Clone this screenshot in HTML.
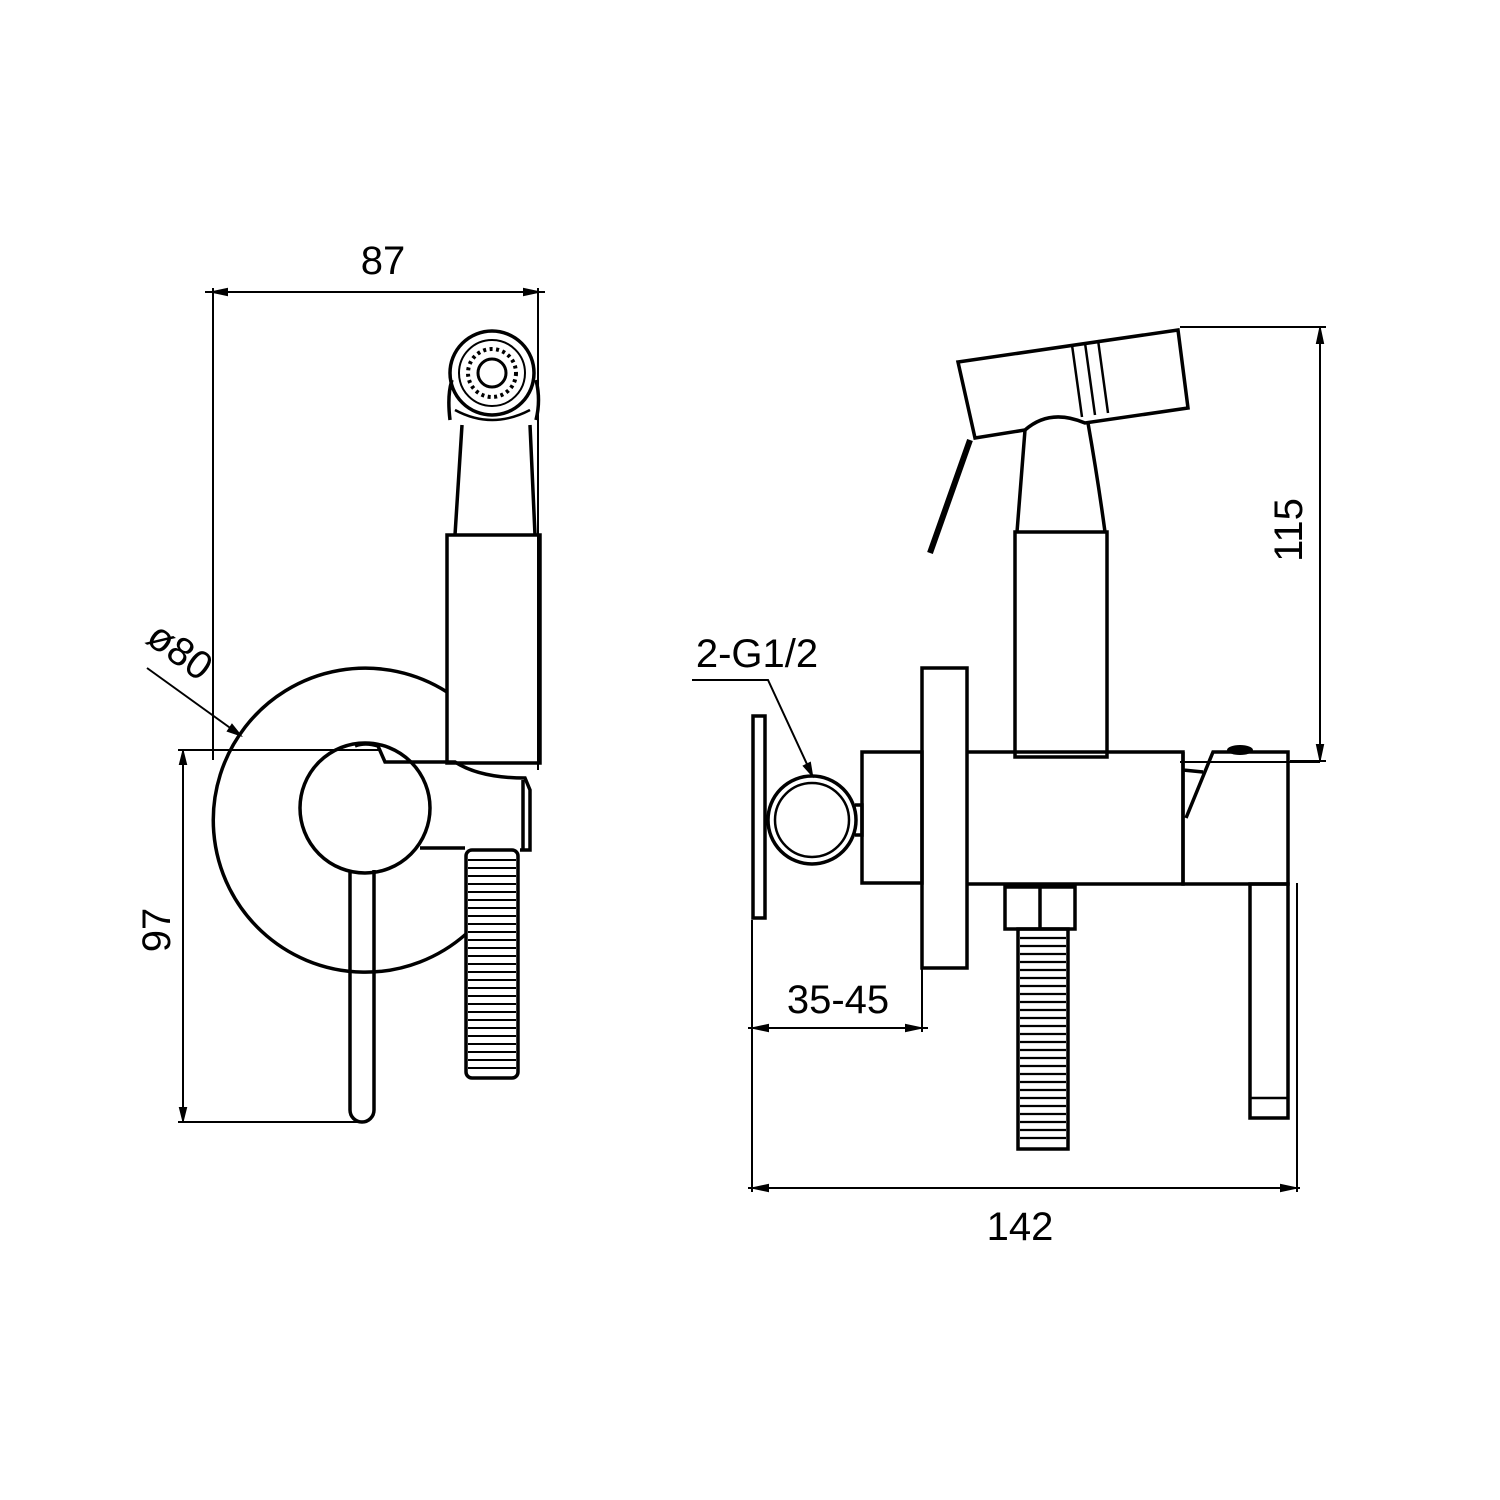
<!DOCTYPE html>
<html><head><meta charset="utf-8"><style>html,body{margin:0;padding:0;background:#fff}svg{display:block}</style></head>
<body>
<svg width="1500" height="1500" viewBox="0 0 1500 1500" xmlns="http://www.w3.org/2000/svg" font-family="Liberation Sans, Arial, sans-serif">
<rect width="1500" height="1500" fill="#fff"/>
<g fill="none" stroke="#000" stroke-width="2">
<line x1="205" y1="292" x2="545" y2="292"/>
<line x1="213" y1="288" x2="213" y2="760"/>
<line x1="538" y1="288" x2="538" y2="770"/>
<path d="M213 292 l14 -3 v6 z M538 292 l-14 -3 v6 z" fill="#000"/>
<line x1="178" y1="750" x2="380" y2="750"/>
<line x1="178" y1="1122" x2="362" y2="1122"/>
<line x1="183" y1="750" x2="183" y2="1122"/>
<path d="M183 752 l-3 12 h6 z M183 1120 l-3 -12 h6 z" fill="#000"/>
<line x1="147" y1="668" x2="240" y2="735"/>
<path d="M240 735 l-12 -4 l4 -6 z" fill="#000"/>
</g>
<g fill="none" stroke="#000" stroke-width="3.5">
<path d="M466 934 A152 152 0 1 1 447 692"/>
<circle cx="365" cy="808" r="65"/>
<path d="M350 870 V1110 a12 12 0 0 0 24 0 V870"/>
<path d="M355 746 Q365 742 378 746 L385 762 H455 Q480 778 525 778 L530 790 V850 H520"/>
<path d="M420 848 H465"/>
<path d="M523 780 V850"/>
<rect x="447" y="535" width="93" height="228"/>
<path d="M455 535 L462 425 M535 535 L530 425"/>
<path d="M450 420 Q447 395 452 380 M536 380 Q541 400 536 420"/>
<circle cx="492" cy="373" r="42"/>
<circle cx="492" cy="373" r="33" stroke-width="2"/>
<circle cx="492" cy="373" r="14" stroke-width="3"/>
<path d="M455 410 Q492 430 530 410" stroke-width="2.5"/>
<rect x="466" y="850" width="52" height="228" rx="6"/>
</g>
<circle cx="492" cy="373" r="24" fill="none" stroke="#000" stroke-dasharray="3 3.5" stroke-width="4"/>
<g stroke="#000" stroke-width="2">
<path d="M468 860 H516 M468 868 H516 M468 876 H516 M468 884 H516 M468 892 H516 M468 900 H516 M468 908 H516 M468 916 H516 M468 924 H516 M468 932 H516 M468 940 H516 M468 948 H516 M468 956 H516 M468 964 H516 M468 972 H516 M468 980 H516 M468 988 H516 M468 996 H516 M468 1004 H516 M468 1012 H516 M468 1020 H516 M468 1028 H516 M468 1036 H516 M468 1044 H516 M468 1052 H516 M468 1060 H516 M468 1068 H516"/>
</g>
<g font-size="40" fill="#000">
<text x="383" y="274" text-anchor="middle">87</text>
<text transform="translate(170,930) rotate(-90)" text-anchor="middle">97</text>
<text transform="translate(172,662) rotate(36)" text-anchor="middle">ø80</text>
</g>

<g fill="none" stroke="#000" stroke-width="2">
<line x1="1180" y1="327" x2="1326" y2="327"/>
<line x1="1290" y1="761" x2="1326" y2="761"/>
<line x1="1320" y1="327" x2="1320" y2="761"/>
<path d="M1320 329 l-3 14 h6 z M1320 759 l-3 -14 h6 z" fill="#000"/>
<line x1="752" y1="920" x2="752" y2="1192"/>
<line x1="1297" y1="883" x2="1297" y2="1192"/>
<line x1="748" y1="1188" x2="1300" y2="1188"/>
<path d="M754 1188 l14 -3 v6 z M1295 1188 l-14 -3 v6 z" fill="#000"/>
<line x1="748" y1="1028" x2="928" y2="1028"/>
<line x1="922" y1="965" x2="922" y2="1032"/>
<path d="M754 1028 l14 -3 v6 z M920 1028 l-14 -3 v6 z" fill="#000"/>
<path d="M692 680 H768 L812 775"/>
<path d="M812 775 l-2 -12 l-6 3 z" fill="#000"/>
<line x1="1180" y1="762" x2="1320" y2="762"/>
</g>
<g fill="none" stroke="#000" stroke-width="3.5">
<path d="M958 362 L1178 330 L1188 408 L1085 423 Q1050 408 1025 430 L975 438 Z"/>
<path d="M1072 345 L1082 417 M1085 343 L1095 415 M1098 340 L1108 413" stroke-width="2.5"/>
<path d="M970 440 L930 553" stroke-width="6"/>
<path d="M1025 430 L1017 532 M1088 423 Q1098 480 1105 532"/>
<rect x="1015" y="532" width="92" height="225"/>
<rect x="922" y="668" width="45" height="300"/>
<rect x="862" y="752" width="60" height="131"/>
<path d="M967 752 H1183 V884 H967"/>
<path d="M1183 752 V884 H1288 V752 H1213 L1186 818 M1183 770 L1203 772"/>
<rect x="1250" y="884" width="38" height="234"/>
<line x1="1250" y1="1098" x2="1288" y2="1098" stroke-width="2.5"/>
<circle cx="812" cy="820" r="44"/>
<circle cx="812" cy="820" r="37" stroke-width="2.5"/>
<path d="M855 805 H862 V835 H855"/>
<rect x="753" y="716" width="12" height="202"/>
<rect x="1005" y="887" width="70" height="42"/>
<line x1="1040" y1="887" x2="1040" y2="929"/>
<rect x="1018" y="929" width="50" height="220"/>
</g>
<ellipse cx="1240" cy="750" rx="13" ry="5" fill="#000"/>
<g stroke="#000" stroke-width="2.2">
<path d="M1020 938 H1066 M1020 946 H1066 M1020 954 H1066 M1020 962 H1066 M1020 970 H1066 M1020 978 H1066 M1020 986 H1066 M1020 994 H1066 M1020 1002 H1066 M1020 1010 H1066 M1020 1018 H1066 M1020 1026 H1066 M1020 1034 H1066 M1020 1042 H1066 M1020 1050 H1066 M1020 1058 H1066 M1020 1066 H1066 M1020 1074 H1066 M1020 1082 H1066 M1020 1090 H1066 M1020 1098 H1066 M1020 1106 H1066 M1020 1114 H1066 M1020 1122 H1066 M1020 1130 H1066 M1020 1138 H1066"/>
</g>
<g font-size="40" fill="#000">
<text x="757" y="667" text-anchor="middle">2-G1/2</text>
<text x="838" y="1013" text-anchor="middle">35-45</text>
<text x="1020" y="1240" text-anchor="middle">142</text>
<text transform="translate(1302,530) rotate(-90)" text-anchor="middle">115</text>
</g>
</svg>
</body></html>
